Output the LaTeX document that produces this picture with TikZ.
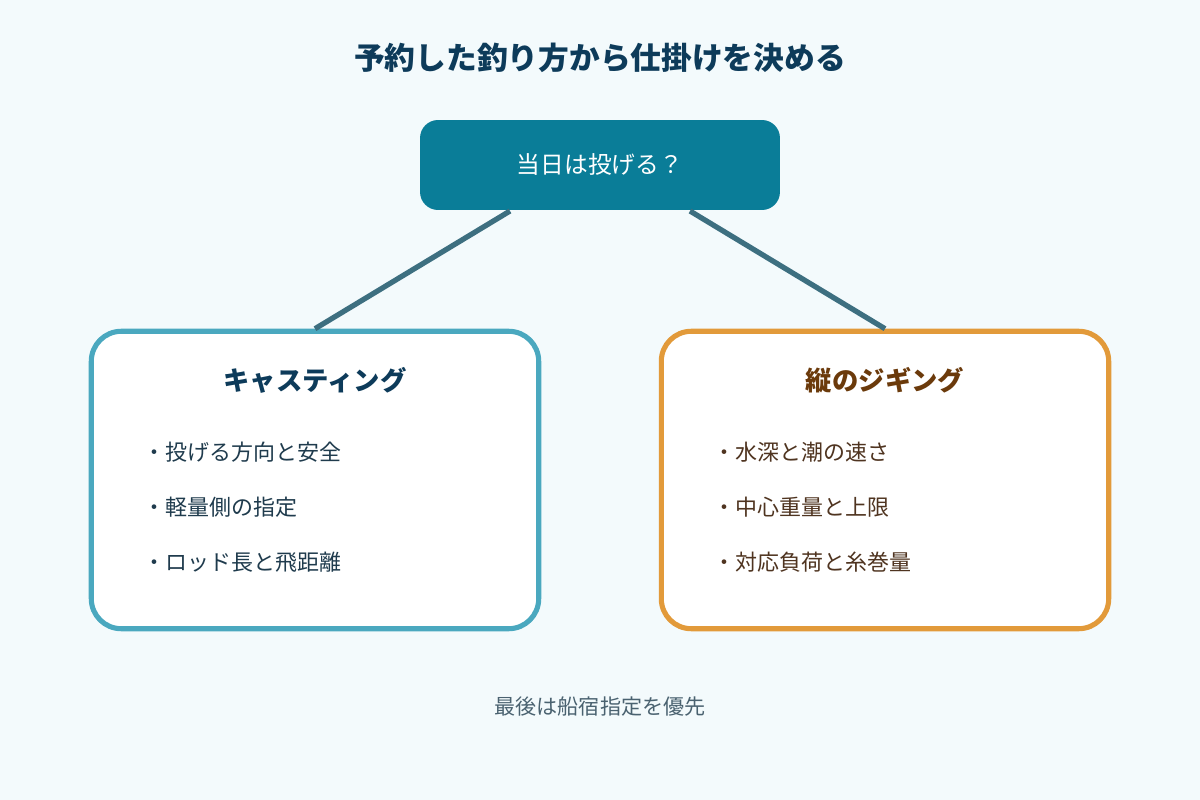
\documentclass[tikz,border=0pt]{standalone}
\usepackage{fontspec}
\newfontfamily\cjk{Noto Sans CJK JP}
\usetikzlibrary{positioning}
\definecolor{bgc}{HTML}{F3FAFC}
\definecolor{titlec}{HTML}{0D3B5A}
\definecolor{topc}{HTML}{0A7D98}
\definecolor{castc}{HTML}{4AA8BF}
\definecolor{jigc}{HTML}{E29A3A}
\definecolor{linec}{HTML}{3D6F80}
\definecolor{jigtext}{HTML}{6B3A0B}
\definecolor{jigitem}{HTML}{4F3420}
\definecolor{castitem}{HTML}{1F3B4D}
\definecolor{footc}{HTML}{4A6270}
\begin{document}
\begin{tikzpicture}[x=0.02cm,y=-0.02cm,font=\cjk]
\tikzstyle{every node}+=[inner sep=0pt]
\tikzstyle{panel}=[draw,line width=2.9pt,fill=white,rounded corners=0.6cm,minimum width=8.95cm,minimum height=5.95cm]
\tikzstyle{item}=[anchor=west,font=\cjk\fontsize{12.5}{14}\selectfont]
\fill [bgc] (0,0) rectangle (1200,800);
\node (title) at (600,58) {\fontsize{17.5}{20}\selectfont\bfseries\color{titlec}予約した釣り方から仕掛けを決める};
\node [fill=topc,rounded corners=0.36cm,minimum width=7.2cm,minimum height=1.8cm,text=white,font=\cjk\fontsize{13.5}{16}\selectfont] (ask) at (600,165) {当日は投げる？};
\node [panel,draw=castc] (cast) at (315,480) {};
\node [panel,draw=jigc] (jig) at (885,480) {};
\coordinate (askl) at (510,211);
\coordinate (askr) at (690,211);
\draw [linec,line width=3pt] (askl) -- (cast.north);
\draw [linec,line width=3pt] (askr) -- (jig.north);
\node [font=\cjk\fontsize{15}{18}\selectfont\bfseries,text=titlec] (casth) at (315,380) {キャスティング};
\node [font=\cjk\fontsize{15}{18}\selectfont\bfseries,text=jigtext] (jigh) at (885,380) {縦のジギング};
\node [item,text=castitem] (c1) at (143,452) {・投げる方向と安全};
\node [item,text=castitem] (c2) at (143,507) {・軽量側の指定};
\node [item,text=castitem] (c3) at (143,562) {・ロッド長と飛距離};
\node [item,text=jigitem] (j1) at (713,452) {・水深と潮の速さ};
\node [item,text=jigitem] (j2) at (713,507) {・中心重量と上限};
\node [item,text=jigitem] (j3) at (713,562) {・対応負荷と糸巻量};
\node [text=footc,font=\cjk\fontsize{12}{14}\selectfont] (foot) at (600,707) {最後は船宿指定を優先};
\end{tikzpicture}
\end{document}
